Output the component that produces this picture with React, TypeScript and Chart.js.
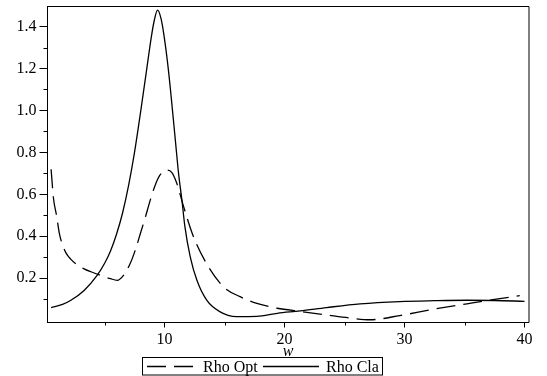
import { useEffect, useRef } from "react";
import { Chart, registerables } from "chart.js";

Chart.register(...registerables);

// ---- data ----
const seriesLabels = ["Rho Opt", "Rho Cla"];

const wOpt = [0.55, 0.75, 1.0, 1.25, 1.5, 1.8, 2.2, 2.75, 3.3, 3.87, 4.7, 5.5, 6.05, 6.6, 7.14, 7.6, 7.97, 8.4, 8.8, 9.2, 9.6, 10.2, 10.6, 11.03, 11.6, 12.4, 13.5, 14.9, 16.3, 17.7, 19.4, 21.3, 23.5, 25.5, 27.1, 29.6, 32.4, 35.2, 37.5, 39.6];
const rhoOpt = [0.72, 0.58, 0.5, 0.41, 0.36, 0.32, 0.29, 0.263, 0.245, 0.231, 0.213, 0.198, 0.19, 0.215, 0.27, 0.34, 0.41, 0.49, 0.57, 0.64, 0.69, 0.716, 0.705, 0.652, 0.54, 0.4, 0.27, 0.16, 0.112, 0.08, 0.057, 0.042, 0.025, 0.01, 0.002, 0.022, 0.052, 0.078, 0.099, 0.117];

const wCla = [0.55, 1.5, 2.2, 3.3, 4.4, 5.0, 5.5, 6.0, 6.5, 7.0, 7.5, 8.0, 8.5, 8.9, 9.15, 9.42, 9.7, 9.95, 10.33, 10.9, 11.17, 11.45, 11.7, 12.14, 12.7, 13.5, 14.6, 16.0, 17.7, 19.4, 21.3, 23.5, 26.3, 29.6, 32.5, 35.2, 37.5, 40];
const rhoCla = [0.06, 0.075, 0.095, 0.142, 0.215, 0.27, 0.33, 0.41, 0.51, 0.64, 0.8, 0.99, 1.19, 1.35, 1.43, 1.478, 1.44, 1.36, 1.19, 0.86, 0.7, 0.573, 0.446, 0.303, 0.19, 0.097, 0.041, 0.017, 0.018, 0.033, 0.044, 0.06, 0.078, 0.089, 0.093, 0.095, 0.094, 0.09];

const yMajorTicks = [0.2, 0.4, 0.6, 0.8, 1.0, 1.2, 1.4];
const yMinorTicks = [0.1, 0.3, 0.5, 0.7, 0.9, 1.1, 1.3];
const xMajorTicks = [10, 20, 30, 40];
const xMinorTicks = [5, 15, 25, 35];
const xTitle = "w";

const X_MIN = 0.25;
const X_MAX = 40.33;
const Y_MIN = -0.011;
const Y_MAX = 1.498;

const FONT = '"Liberation Serif", "Times New Roman", serif';

const makePoints = (xs: number[], ys: number[]) => xs.map((x, i) => ({ x, y: ys[i] }));

const decorPlugin = {
  id: "decor",
  afterDraw(chart: any) {
    const { ctx, chartArea } = chart;
    const xs = chart.scales.x;
    const ys = chart.scales.y;
    ctx.save();
    ctx.strokeStyle = "#000";
    ctx.lineWidth = 1;
    // frame: top and right
    ctx.beginPath();
    ctx.moveTo(chartArea.left, chartArea.top + 0.5);
    ctx.lineTo(chartArea.right + 0.5, chartArea.top + 0.5);
    ctx.lineTo(chartArea.right + 0.5, chartArea.bottom);
    ctx.stroke();
    // minor ticks
    ctx.beginPath();
    yMinorTicks.forEach((v) => {
      const py = Math.round(ys.getPixelForValue(v)) + 0.5;
      ctx.moveTo(chartArea.left - 4, py);
      ctx.lineTo(chartArea.left, py);
    });
    xMinorTicks.forEach((v) => {
      const px = Math.round(xs.getPixelForValue(v)) + 0.5;
      ctx.moveTo(px, chartArea.bottom);
      ctx.lineTo(px, chartArea.bottom + 3);
    });
    ctx.stroke();

    // legend with border box
    const lx = 142.5, ly = 357.5, lw = 240, lh = 17.5;
    ctx.strokeRect(lx, ly, lw, lh);
    const cy = 366.5;
    const items = [
      { x0: 147, x1: 195, tx: 203 },
      { x0: 263, x1: 319, tx: 326 },
    ];
    ctx.font = `16px ${FONT}`;
    ctx.fillStyle = "#000";
    ctx.textBaseline = "middle";
    ctx.textAlign = "left";
    chart.data.datasets.forEach((ds: any, i: number) => {
      const it = items[i];
      ctx.save();
      ctx.lineWidth = ds.borderWidth;
      ctx.setLineDash(ds.borderDash || []);
      ctx.beginPath();
      ctx.moveTo(it.x0, cy);
      ctx.lineTo(it.x1, cy);
      ctx.stroke();
      ctx.restore();
      ctx.fillText(ds.label, it.tx, cy + 1);
    });
    ctx.restore();
  },
};

export default function App() {
  const ref = useRef<HTMLCanvasElement | null>(null);
  useEffect(() => {
    if (!ref.current) return;
    const chart = new Chart(ref.current, {
      type: "line",
      data: {
        datasets: [
          {
            label: seriesLabels[0],
            data: makePoints(wOpt, rhoOpt),
            borderColor: "#000",
            borderWidth: 1.3,
            borderDash: [19, 8],
            pointRadius: 0,
            cubicInterpolationMode: "monotone",
            fill: false,
          },
          {
            label: seriesLabels[1],
            data: makePoints(wCla, rhoCla),
            borderColor: "#000",
            borderWidth: 1.3,
            pointRadius: 0,
            cubicInterpolationMode: "monotone",
            fill: false,
          },
        ],
      },
      options: {
        animation: false,
        responsive: false,
        devicePixelRatio: 1,
        layout: { padding: { top: 6, right: 18.5, bottom: 0, left: 0 } },
        plugins: {
          legend: { display: false },
          tooltip: { enabled: false },
        },
        scales: {
          x: {
            type: "linear",
            min: X_MIN,
            max: X_MAX,
            grid: { drawOnChartArea: false, drawTicks: true, tickLength: 5, tickColor: "#000" },
            border: { display: true, color: "#000", width: 1 },
            ticks: {
              color: "#000",
              font: { family: FONT, size: 16 },
              padding: 3,
              maxRotation: 0,
              callback: (v: any) => String(v),
            },
            afterBuildTicks: (scale: any) => {
              scale.ticks = xMajorTicks.map((v) => ({ value: v }));
            },
            afterFit: (scale: any) => {
              scale.height = 53.5;
              scale.paddingLeft = 0;
              scale.paddingRight = 0;
            },
            title: {
              display: true,
              text: xTitle,
              color: "#000",
              font: { family: FONT, size: 16, style: "italic" },
              padding: { top: 0, bottom: 15 },
            },
          },
          y: {
            type: "linear",
            min: Y_MIN,
            max: Y_MAX,
            grid: { drawOnChartArea: false, drawTicks: true, tickLength: 8, tickColor: "#000" },
            border: { display: true, color: "#000", width: 1 },
            ticks: {
              color: "#000",
              font: { family: FONT, size: 16 },
              padding: 3,
              callback: (v: any) => Number(v).toFixed(1),
            },
            afterBuildTicks: (scale: any) => {
              scale.ticks = yMajorTicks.map((v) => ({ value: v }));
            },
            afterFit: (scale: any) => {
              scale.width = 47.5;
              scale.paddingTop = 0;
              scale.paddingBottom = 0;
            },
          },
        },
      },
      plugins: [decorPlugin],
    });
    return () => chart.destroy();
  }, []);

  return (
    <div style={{ position: "fixed", left: 0, top: 0, width: 547, height: 376, background: "#fff" }}>
      <canvas ref={ref} width={547} height={376} style={{ width: 547, height: 376, display: "block" }} />
    </div>
  );
}
